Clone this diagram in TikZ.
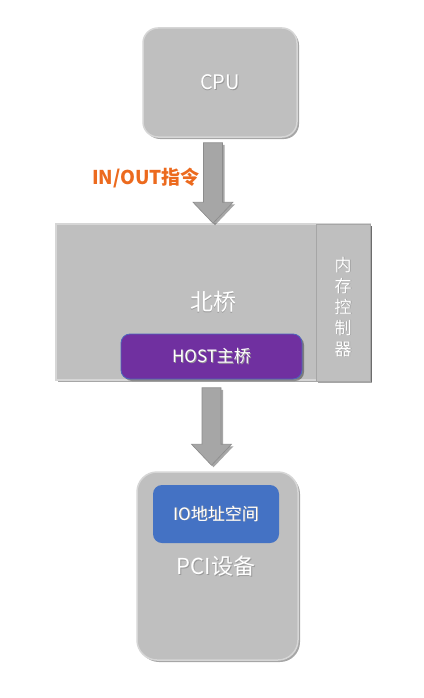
\documentclass[tikz,border=0pt]{standalone}
\usepackage{fontspec}
\setmainfont{Noto Sans CJK SC}
\usetikzlibrary{shadows,calc}
\definecolor{boxgray}{HTML}{BFBFBF}
\definecolor{boxedge}{HTML}{D6D6D6}
\definecolor{arrfill}{HTML}{A6A6A6}
\definecolor{arredge}{HTML}{8C8C8C}
\definecolor{hostpurple}{HTML}{7030A0}
\definecolor{ioblue}{HTML}{4472C4}
\definecolor{labelorange}{HTML}{EC6A1E}
\newcommand\shtxt[1]{\makebox[0pt][l]{\raisebox{-0.9pt}{\hspace{0.9pt}\color{black!40}#1}}#1}
\tikzset{
  shad/.style={drop shadow={shadow xshift=2pt,shadow yshift=-2pt,opacity=0.35,fill=black}},
  graybox/.style={fill=boxgray,draw=boxedge,line width=1.5pt,inner sep=0pt,shad},
  wtext/.style={text=white,inner sep=0pt},
  blockarrow/.style={fill=arrfill,draw=arredge,line width=0.6pt,shad}
}
\begin{document}
\begin{tikzpicture}[x=1pt,y=-1pt]
\useasboundingbox (0,0) rectangle (423,698);
% CPU
\node[graybox,rounded corners=15pt,minimum width=154pt,minimum height=109pt] (cpu) at (220,82.5) {};
\node[wtext,font=\fontsize{20}{22}\selectfont] (cputxt) at (cpu.center) {\shtxt{CPU}};
% North bridge
\node[graybox,minimum width=314pt,minimum height=156pt] (nb) at (213,302) {};
\node[wtext,font=\fontsize{23}{26}\selectfont] (nbtxt) at (213,302) {\shtxt{北桥}};
\node[fill=boxgray,draw=arrfill,line width=0.8pt,inner sep=0pt,minimum width=54pt,minimum height=157pt,shad] (mc) at (343,302.5) {};
\node[wtext,align=center,font=\fontsize{17}{21}\selectfont] (mctxt) at (343,307) {\shtxt{内}\\\shtxt{存}\\\shtxt{控}\\\shtxt{制}\\\shtxt{器}};
\node[fill=hostpurple,draw=ioblue!80!hostpurple,line width=0.8pt,rounded corners=9pt,inner sep=0pt,minimum width=181pt,minimum height=45pt,shad] (host) at (211.5,356.5) {};
\node[wtext,font=\fontsize{17}{20}\selectfont] (hosttxt) at (host.center) {\shtxt{HOST主桥}};
% PCI device
\node[graybox,rounded corners=20pt,minimum width=161pt,minimum height=188pt] (pci) at (217.5,566) {};
\node[fill=ioblue,rounded corners=9pt,inner sep=0pt,minimum width=126pt,minimum height=58pt] (io) at (216,514) {};
\node[wtext,font=\fontsize{17}{20}\selectfont] (iotxt) at (io.center) {\shtxt{IO地址空间}};
\node[wtext,font=\fontsize{22}{25}\selectfont] (pcitxt) at (216,567) {\shtxt{PCI设备}};
% arrows
\coordinate (a1s) at ($(cpu.south)+(-7,5)$);
\coordinate (a1e) at (nb.north -| a1s);
\path[blockarrow] ($(a1s)+(-9.5,0)$) -- ($(a1s)+(9.5,0)$) -- ($(a1e)+(9.5,-21)$) -- ($(a1e)+(20,-21)$) -- (a1e) -- ($(a1e)+(-20,-21)$) -- ($(a1e)+(-9.5,-21)$) -- cycle;
\coordinate (a2s) at ($(nb.south)+(-1.5,7)$);
\coordinate (a2e) at ($(pci.north -| a2s)+(0,-6)$);
\path[blockarrow] ($(a2s)+(-9.5,0)$) -- ($(a2s)+(9.5,0)$) -- ($(a2e)+(9.5,-21)$) -- ($(a2e)+(20,-21)$) -- (a2e) -- ($(a2e)+(-20,-21)$) -- ($(a2e)+(-9.5,-21)$) -- cycle;
\node[text=labelorange,font=\bfseries\fontsize{19}{22}\selectfont,inner sep=0pt] (lbl) at (146,178) {IN/OUT指令};
\end{tikzpicture}
\end{document}
